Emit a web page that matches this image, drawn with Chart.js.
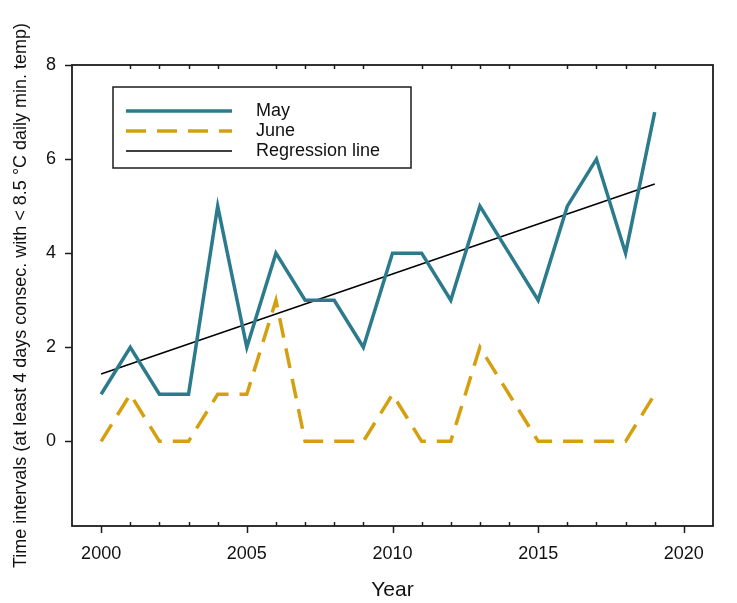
<!DOCTYPE html>
<html>
<head>
<meta charset="utf-8">
<script src="https://cdn.jsdelivr.net/npm/chart.js@4.4.1/dist/chart.umd.min.js"></script>
<style>
  html, body { margin: 0; padding: 0; background: #ffffff; }
  canvas { display: block; }
</style>
</head>
<body>
<canvas id="chart" width="737" height="603"></canvas>
<script>
// Years observed
const years = [2000, 2001, 2002, 2003, 2004, 2005, 2006, 2007, 2008, 2009,
               2010, 2011, 2012, 2013, 2014, 2015, 2016, 2017, 2018, 2019];
// Number of cold intervals per month
const mayCounts  = [1, 2, 1, 1, 5, 2, 4, 3, 3, 2, 4, 4, 3, 5, 4, 3, 5, 6, 4, 7];
const juneCounts = [0, 1, 0, 0, 1, 1, 3, 0, 0, 0, 1, 0, 0, 2, 1, 0, 0, 0, 0, 1];
// Fitted trend line (end points)
const regressionYears  = [2000, 2019];
const regressionValues = [1.43, 5.47];
// Axis tick labels
const xTickLabels = [2000, 2005, 2010, 2015, 2020];
const yTickLabels = [0, 2, 4, 6, 8];

const FONT = "'Liberation Sans', Arial, sans-serif";
const AXIS_COLOR = '#1c1c1c';

const toPoints = (xs, ys) => xs.map((x, i) => ({ x: x, y: ys[i] }));

// White page background
const background = {
  id: 'background',
  beforeDraw(chart) {
    const ctx = chart.ctx;
    ctx.save();
    ctx.fillStyle = '#ffffff';
    ctx.fillRect(0, 0, chart.width, chart.height);
    ctx.restore();
  }
};

// Plot frame with outward major and inward minor tick marks
const frameTicks = {
  id: 'frameTicks',
  afterDraw(chart) {
    const { ctx, chartArea: a, scales: { x, y } } = chart;
    ctx.save();
    ctx.strokeStyle = AXIS_COLOR;
    ctx.lineWidth = 1.8;
    ctx.lineCap = 'square';
    ctx.strokeRect(a.left, a.top, a.right - a.left, a.bottom - a.top);

    ctx.lineWidth = 1.5;
    ctx.lineCap = 'butt';
    ctx.beginPath();
    // left axis: major ticks outward
    yTickLabels.forEach(v => {
      const py = Math.round(y.getPixelForValue(v)) + 0.5;
      ctx.moveTo(a.left - 7, py);
      ctx.lineTo(a.left, py);
    });
    // bottom axis: major outward
    xTickLabels.forEach(v => {
      const px = Math.round(x.getPixelForValue(v)) + 0.5;
      ctx.moveTo(px, a.bottom);
      ctx.lineTo(px, a.bottom + 7);
    });
    // bottom and top axes: minor yearly ticks pointing inward
    for (let yr = Math.ceil(x.min) + 1; yr < x.max - 1; yr++) {
      if (yr % 5 === 0) continue;
      const px = Math.round(x.getPixelForValue(yr)) + 0.5;
      ctx.moveTo(px, a.bottom);
      ctx.lineTo(px, a.bottom - 4);
      ctx.moveTo(px, a.top);
      ctx.lineTo(px, a.top + 4);
    }
    ctx.stroke();
    ctx.restore();
  }
};

// Boxed legend inside the plot area
const boxedLegend = {
  id: 'boxedLegend',
  afterDraw(chart) {
    const ctx = chart.ctx;
    const box = { left: 113, top: 87, right: 411, bottom: 168 };
    ctx.save();
    ctx.fillStyle = '#ffffff';
    ctx.fillRect(box.left, box.top, box.right - box.left, box.bottom - box.top);
    ctx.strokeStyle = AXIS_COLOR;
    ctx.lineWidth = 1.5;
    ctx.strokeRect(box.left, box.top, box.right - box.left, box.bottom - box.top);
    const rows = [111, 131, 151];
    chart.data.datasets.forEach((ds, i) => {
      const yy = rows[i];
      ctx.beginPath();
      ctx.strokeStyle = ds.borderColor;
      ctx.lineWidth = ds.borderWidth;
      ctx.setLineDash(ds.borderDash || []);
      ctx.lineCap = 'butt';
      ctx.moveTo(126, yy);
      ctx.lineTo(232, yy);
      ctx.stroke();
      ctx.setLineDash([]);
      ctx.fillStyle = '#111111';
      ctx.font = '18px ' + FONT;
      ctx.textBaseline = 'middle';
      ctx.textAlign = 'left';
      ctx.fillText(ds.label, 256, yy);
    });
    ctx.restore();
  }
};

new Chart(document.getElementById('chart'), {
  type: 'line',
  data: {
    datasets: [
      {
        label: 'May',
        data: toPoints(years, mayCounts),
        borderColor: '#2b7b8d',
        borderWidth: 3.5,
        borderJoinStyle: 'miter',
        pointRadius: 0,
        tension: 0,
        fill: false
      },
      {
        label: 'June',
        data: toPoints(years, juneCounts),
        borderColor: '#d5a010',
        borderWidth: 3.5,
        borderDash: [20, 11],
        borderJoinStyle: 'miter',
        pointRadius: 0,
        tension: 0,
        fill: false
      },
      {
        label: 'Regression line',
        data: toPoints(regressionYears, regressionValues),
        borderColor: '#000000',
        borderWidth: 1.5,
        pointRadius: 0,
        tension: 0,
        fill: false
      }
    ]
  },
  options: {
    responsive: false,
    animation: false,
    devicePixelRatio: 1,
    layout: { padding: { top: 65, right: 24, left: 0, bottom: 0 } },
    plugins: {
      legend: { display: false },
      tooltip: { enabled: false }
    },
    scales: {
      x: {
        type: 'linear',
        min: 1999,
        max: 2021,
        afterBuildTicks: s => { s.ticks = xTickLabels.map(v => ({ value: v })); },
        afterFit: s => { s.height = 77; },
        grid: { display: false },
        border: { display: false },
        ticks: {
          color: '#111111',
          font: { family: FONT, size: 18 },
          padding: 9,
          maxRotation: 0,
          autoSkip: false,
          callback: v => String(v)
        },
        title: {
          display: true,
          text: 'Year',
          color: '#111111',
          font: { family: FONT, size: 21 },
          padding: { top: 0, bottom: 0 }
        }
      },
      y: {
        type: 'linear',
        min: -1.8,
        max: 8,
        afterBuildTicks: s => { s.ticks = yTickLabels.map(v => ({ value: v })); },
        afterFit: s => { s.width = 72; },
        grid: { display: false },
        border: { display: false },
        ticks: {
          color: '#111111',
          font: { family: FONT, size: 18 },
          padding: 8,
          callback: v => String(v)
        },
        title: {
          display: true,
          text: 'Time intervals (at least 4 days consec. with < 8.5 °C daily min. temp)',
          color: '#111111',
          font: { family: FONT, size: 18 },
          padding: { top: 10, bottom: 0 }
        }
      }
    }
  },
  plugins: [background, frameTicks, boxedLegend]
});
</script>
</body>
</html>
